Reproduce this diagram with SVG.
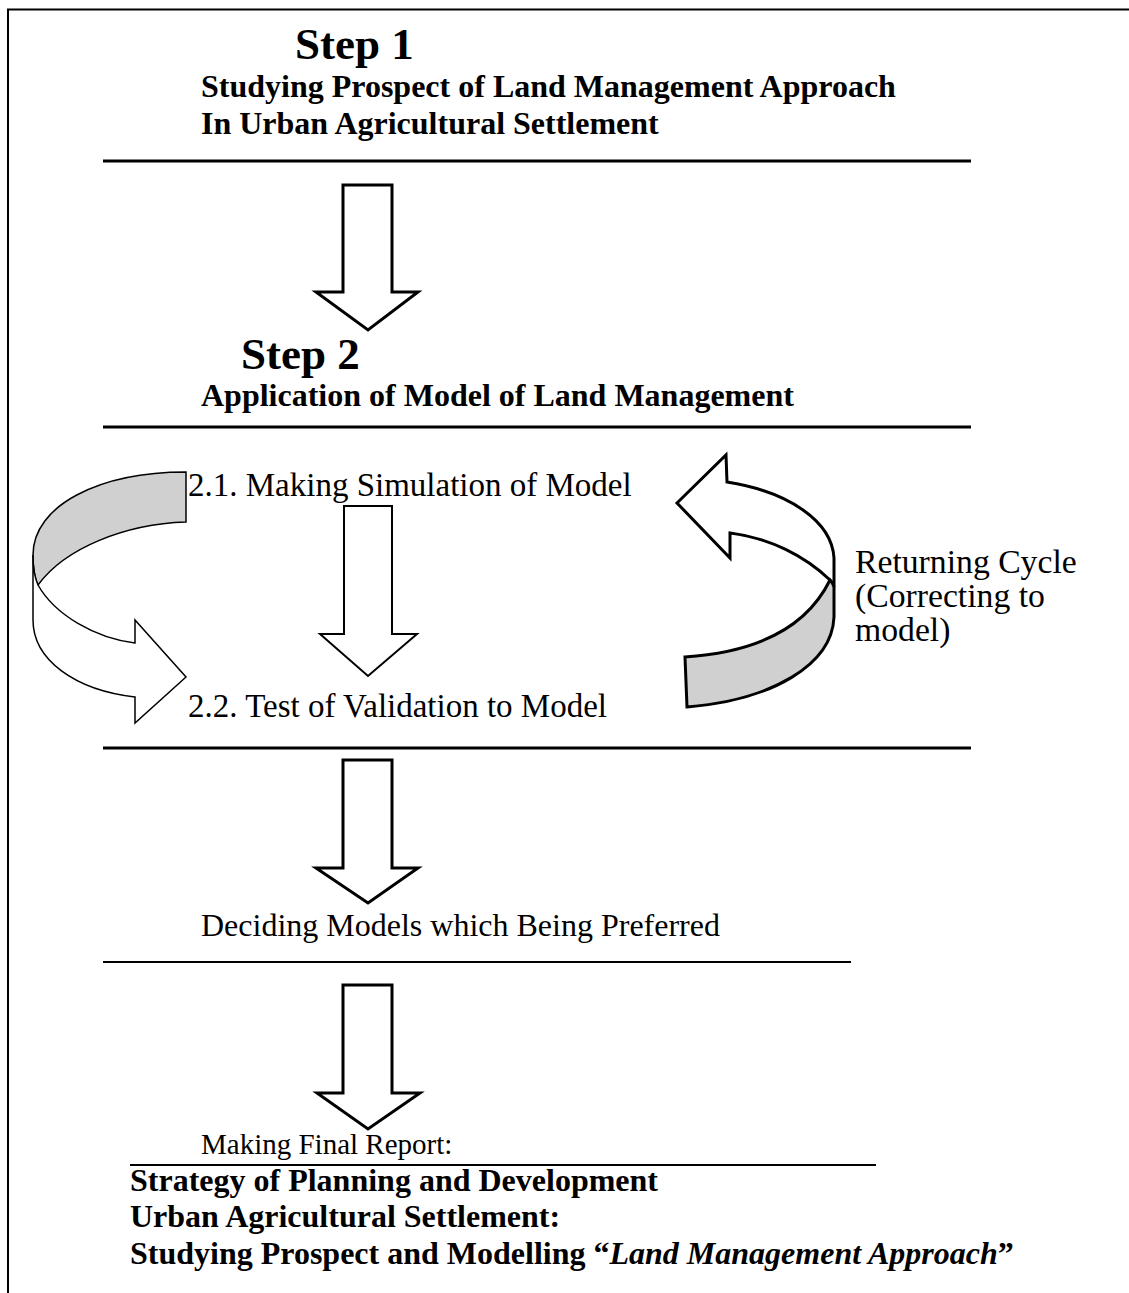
<svg xmlns="http://www.w3.org/2000/svg" width="1129" height="1293" viewBox="0 0 1129 1293">
<style>
text{font-family:"Liberation Serif","Times New Roman",serif;fill:#000}
.b{font-weight:bold;font-size:32px}
.r{font-size:32px}
.r33{font-size:33px}
.r34{font-size:33.7px}
.st{font-weight:bold;font-size:45px}
.rule{stroke:#000;stroke-width:3}
.rule2{stroke:#000;stroke-width:2}
.blk{fill:#fff;stroke:#000;stroke-width:3;stroke-linejoin:miter}
.thin{fill:#fff;stroke:#000;stroke-width:2}
.gray{fill:#d0d0d0}
</style>
<rect width="1129" height="1293" fill="#fff"/>
<g id="frame">
<line x1="7" y1="9.5" x2="1129" y2="9.5" stroke="#000" stroke-width="2"/>
<line x1="8" y1="9" x2="8" y2="1293" stroke="#000" stroke-width="2"/>
</g>
<g id="step1">
<text class="st" x="295" y="59">Step 1</text>
<text class="b" x="201" y="97">Studying Prospect of Land Management Approach</text>
<text class="b" x="201" y="134">In Urban Agricultural Settlement</text>
<line class="rule" x1="103" y1="161" x2="971" y2="161"/>
</g>
<g id="step2">
<text class="st" x="241" y="369">Step 2</text>
<text class="b" x="201" y="406">Application of Model of Land Management</text>
<line class="rule" x1="103" y1="427" x2="971" y2="427"/>
</g>
<g id="step21">
<text class="r33" x="188" y="496">2.1. Making Simulation of Model</text>
</g>
<g id="step22">
<text class="r33" x="188" y="717">2.2. Test of Validation to Model</text>
<line class="rule" x1="103" y1="748" x2="971" y2="748"/>
</g>
<g id="returning">
<text class="r34" x="855" y="573">Returning Cycle</text>
<text class="r34" x="855" y="607">(Correcting to</text>
<text class="r34" x="855" y="641">model)</text>
</g>
<g id="deciding">
<text class="r" x="201" y="936">Deciding Models which Being Preferred</text>
<line class="rule2" x1="103" y1="962" x2="851" y2="962"/>
</g>
<g id="final">
<text x="201" y="1154" font-size="29">Making Final Report:</text>
<line class="rule2" x1="130" y1="1165" x2="876" y2="1165"/>
<text class="b" x="130" y="1191">Strategy of Planning and Development</text>
<text class="b" x="130" y="1227">Urban Agricultural Settlement:</text>
<text class="b" x="130" y="1264">Studying Prospect and Modelling “<tspan font-style="italic">Land Management Approach</tspan>”</text>
</g>
<g id="connectors">
<path class="blk" d="M343,185 H392 V292 H418 L368,330 L316,292 H343 Z"/>
<path class="thin" d="M344,506 H392 V634 H417 L368,676 L320,634 H344 Z"/>
<path class="blk" d="M343,760 H392 V868 H418 L368,903 L316,868 H343 Z"/>
<path class="blk" d="M343,985 H392 V1093 H420 L368,1129 L317,1093 H343 Z"/>
<g id="loop-left" stroke="#000" stroke-width="1.5" stroke-linejoin="miter">
<path class="gray" d="M186,472 L186,522 C125,524 65,548 38,585 C34,578 33,568 33,555 C33,505 100,472 186,472 Z"/>
<path fill="#fff" d="M38,585 C55,615 95,638 135,643 L135,620 L186,677 L135,723 L135,697 C75,690 33,660 33,620 L33,555 C33,570 35,578 38,585 Z"/>
</g>
<g id="loop-right" stroke="#000" stroke-width="3" stroke-linejoin="miter">
<path fill="#fff" d="M677,503 L726,455 L727,482 C790,492 832,522 834,558 L834,587 C833,584 832,582 830,580 C805,556 770,538 730,533 L730,558 Z"/>
<path class="gray" d="M830,580 C808,625 760,652 685,657 L687,707 C772,700 832,665 834,617 L834,587 C833,584 832,582 830,580 Z"/>
</g>
</g>
</svg>
